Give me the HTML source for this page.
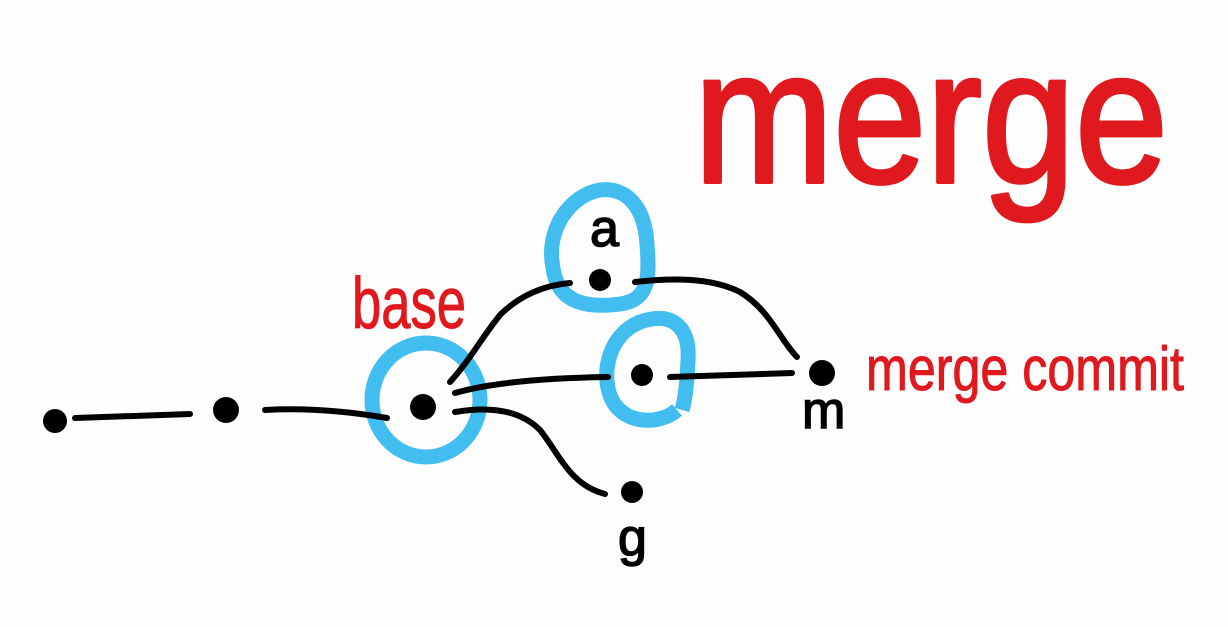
<!DOCTYPE html>
<html><head><style>html,body{margin:0;padding:0;background:#fdfdfd;}svg{display:block}</style></head>
<body>
<svg width="1228" height="627" viewBox="0 0 1228 627" xmlns="http://www.w3.org/2000/svg">
<rect width="1228" height="627" fill="#fdfdfd"/>
<g font-family="'Liberation Sans', sans-serif" fill="#e0191f" stroke="#e0191f" stroke-linejoin="round">
<text x="694" y="182" font-size="190" stroke-width="4" textLength="474" lengthAdjust="spacingAndGlyphs">merge</text>
<text x="352" y="328" font-size="72" stroke-width="1" textLength="114" lengthAdjust="spacingAndGlyphs">base</text>
<text x="866" y="390" font-size="62" stroke-width="1" textLength="318" lengthAdjust="spacingAndGlyphs">merge commit</text>
</g>
<g fill="none" stroke="#42bdf0" stroke-width="15">
<ellipse cx="426" cy="400" rx="54" ry="57"/>
<path d="M553,268 C545,230 570,195 600,190 C625,187 645,205 647,245 C650,280 648,300 620,304 C590,308 558,305 553,268 Z"/>
<path d="M677,410 C660,425 625,425 612,400 C600,375 608,335 640,322 C675,310 690,330 688,360 C687,385 685,400 682,410"/>
</g>
<g fill="none" stroke="#000" stroke-width="6" stroke-linecap="round">
<path d="M75,418 L190,414"/>
<path d="M265,410 C300,408 340,410 387,418"/>
<path d="M450,382 C470,360 480,340 500,315 C520,295 545,285 570,283"/>
<path d="M635,282 C670,278 710,277 740,292 C770,310 780,340 797,357"/>
<path d="M455,393 C490,383 540,378 608,377"/>
<path d="M670,377 L792,373"/>
<path d="M455,412 C490,406 520,410 540,430 C560,455 570,485 605,494"/>
</g>
<g fill="#000">
<circle cx="55" cy="421" r="12"/>
<circle cx="226" cy="410" r="13"/>
<circle cx="423" cy="407" r="13"/>
<circle cx="600" cy="280" r="11"/>
<circle cx="642" cy="375" r="11"/>
<circle cx="822" cy="373" r="13"/>
<circle cx="632" cy="492" r="11"/>
</g>
<g font-family="'Liberation Sans', sans-serif" fill="#000" stroke="#000" stroke-width="1.5" font-size="52">
<text x="590" y="246">a</text>
<text x="802" y="428">m</text>
<text x="618" y="555">g</text>
</g>
</svg>
</body></html>
